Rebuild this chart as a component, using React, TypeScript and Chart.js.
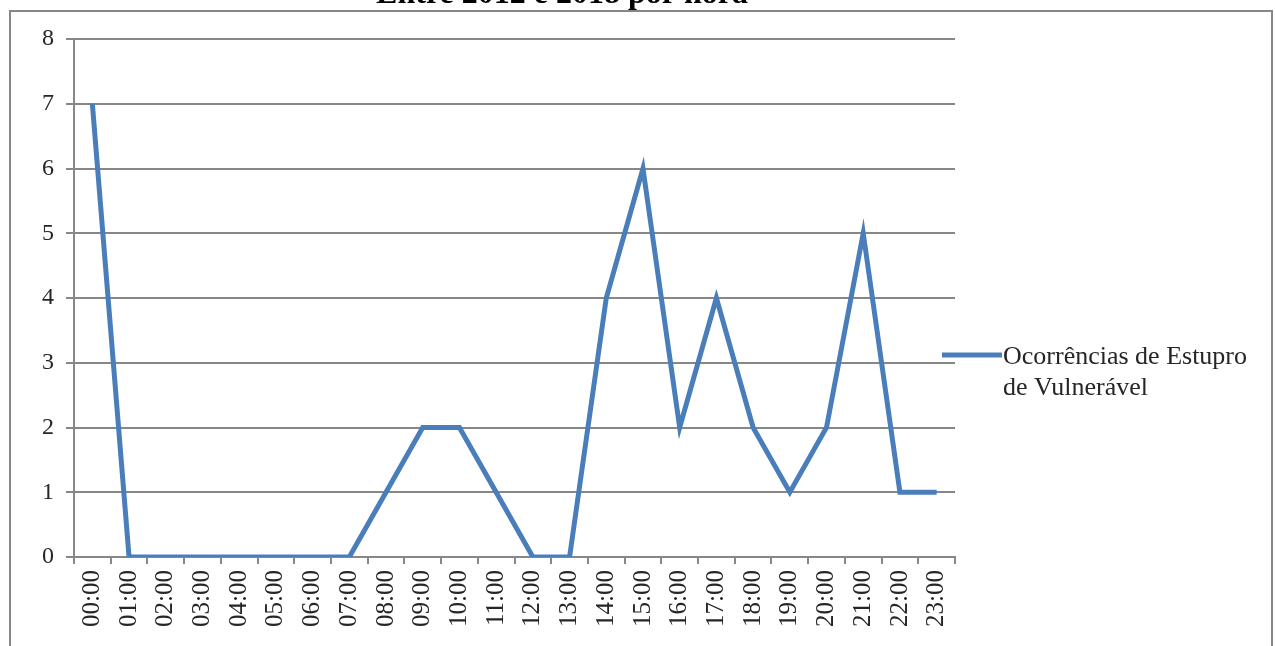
import React, { useEffect, useRef } from "react";
import { Chart, registerables } from "chart.js";

Chart.register(...registerables);

// Hourly occurrences, 2012–2018
const hours = [
  "00:00", "01:00", "02:00", "03:00", "04:00", "05:00", "06:00", "07:00",
  "08:00", "09:00", "10:00", "11:00", "12:00", "13:00", "14:00", "15:00",
  "16:00", "17:00", "18:00", "19:00", "20:00", "21:00", "22:00", "23:00",
];
const occurrences = [7, 0, 0, 0, 0, 0, 0, 0, 1, 2, 2, 1, 0, 0, 4, 6, 2, 4, 2, 1, 2, 5, 1, 1];
const seriesName = "Ocorrências de Estupro de Vulnerável";
const legendLines = ["Ocorrências de Estupro", "de Vulnerável"];
const titleText = "Entre 2012 e 2018 por hora";
const yTicks = [0, 1, 2, 3, 4, 5, 6, 7, 8];

const W = 1275;
const H = 646;
const LINE_COLOR = "#4a7ebb";
const GRID_COLOR = "#878787";
const TEXT_COLOR = "#262626";
const FONT = "'Liberation Serif', 'Times New Roman', serif";

// Frame, clipped title and right-side legend
const decorations = {
  id: "decorations",
  beforeDraw(chart: any) {
    const { ctx } = chart;
    ctx.save();
    ctx.fillStyle = "#ffffff";
    ctx.fillRect(0, 0, W, H);
    ctx.strokeStyle = GRID_COLOR;
    ctx.lineWidth = 2;
    ctx.strokeRect(10, 11, 1262, H + 20);
    ctx.restore();
  },
  afterDraw(chart: any) {
    const { ctx } = chart;
    ctx.save();
    // title sits mostly above the visible area
    ctx.fillStyle = "#000000";
    ctx.font = `bold 32px ${FONT}`;
    ctx.textAlign = "center";
    ctx.textBaseline = "alphabetic";
    ctx.fillText(titleText, 562, 3);

    // legend
    const ds = chart.data.datasets[0];
    ctx.strokeStyle = ds.borderColor;
    ctx.lineWidth = ds.borderWidth;
    ctx.beginPath();
    ctx.moveTo(942, 355);
    ctx.lineTo(1002, 355);
    ctx.stroke();
    ctx.fillStyle = TEXT_COLOR;
    ctx.font = `26px ${FONT}`;
    ctx.textAlign = "left";
    legendLines.forEach((line, i) => {
      ctx.fillText(line, 1003, 364 + i * 31);
    });
    ctx.restore();
  },
};

export default function App() {
  const canvasRef = useRef<HTMLCanvasElement | null>(null);

  useEffect(() => {
    if (!canvasRef.current) return;
    const chart = new Chart(canvasRef.current, {
      type: "line",
      data: {
        labels: hours,
        datasets: [
          {
            label: seriesName,
            data: occurrences,
            borderColor: LINE_COLOR,
            backgroundColor: LINE_COLOR,
            borderWidth: 5,
            pointRadius: 0,
            tension: 0,
            fill: false,
          },
        ],
      },
      options: {
        responsive: false,
        animation: false,
        layout: { padding: { left: 0, top: 39, right: W - 955, bottom: 0 } },
        plugins: {
          legend: { display: false },
          title: { display: false },
          tooltip: { enabled: false },
        },
        scales: {
          x: {
            type: "category",
            offset: true,
            grid: {
              offset: true,
              drawOnChartArea: false,
              drawTicks: true,
              tickLength: 7,
              color: GRID_COLOR,
              lineWidth: 2,
            },
            border: { color: GRID_COLOR, width: 2 },
            ticks: {
              autoSkip: false,
              minRotation: 90,
              maxRotation: 90,
              padding: 6,
              color: TEXT_COLOR,
              font: { family: FONT, size: 25 },
            },
            afterFit(scale: any) {
              scale.height = H - 557;
            },
          },
          y: {
            min: 0,
            max: 8,
            afterBuildTicks(scale: any) {
              scale.ticks = yTicks.map((v) => ({ value: v }));
            },
            grid: {
              color: GRID_COLOR,
              lineWidth: 2,
              tickLength: 8,
            },
            border: { color: GRID_COLOR, width: 2 },
            ticks: {
              padding: 12,
              color: TEXT_COLOR,
              font: { family: FONT, size: 24 },
            },
            afterFit(scale: any) {
              scale.width = 74;
            },
          },
        },
      },
      plugins: [decorations],
    });
    return () => chart.destroy();
  }, []);

  return (
    <div style={{ position: "fixed", left: 0, top: 0, width: W, height: H, background: "#fff" }}>
      <canvas ref={canvasRef} width={W} height={H} style={{ display: "block" }} />
    </div>
  );
}
